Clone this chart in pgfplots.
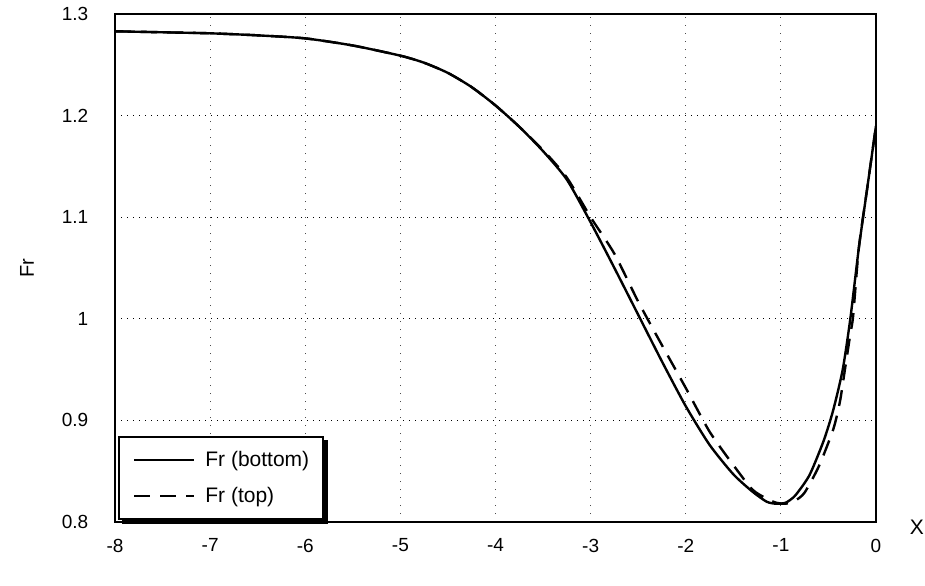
\documentclass[border=0pt]{standalone}
\usepackage{fontspec}
\setmainfont{Liberation Sans}
\usepackage{pgfplots}
\pgfplotsset{compat=1.18}
\usetikzlibrary{calc}

\pgfplotstableread{
x     y
-8.00 1.283
-7.50 1.282
-7.00 1.281
-6.50 1.279
-6.00 1.276
-5.50 1.269
-5.00 1.259
-4.75 1.252
-4.50 1.242
-4.25 1.228
-4.00 1.210
-3.75 1.189
-3.50 1.165
-3.25 1.137
-3.00 1.095
-2.75 1.050
-2.50 1.004
-2.25 0.958
-2.00 0.914
-1.75 0.876
-1.50 0.847
-1.30 0.830
-1.15 0.820
-1.05 0.818
-0.95 0.819
-0.85 0.826
-0.70 0.846
-0.55 0.880
-0.45 0.910
-0.35 0.950
-0.27 1.000
-0.18 1.070
-0.09 1.130
 0.00 1.190
}\frbottom

\pgfplotstableread{
x     y
-8.00 1.283
-7.50 1.282
-7.00 1.281
-6.50 1.279
-6.00 1.276
-5.50 1.269
-5.00 1.259
-4.75 1.252
-4.50 1.242
-4.25 1.228
-4.00 1.210
-3.75 1.189
-3.50 1.166
-3.25 1.139
-3.00 1.100
-2.75 1.064
-2.50 1.017
-2.25 0.974
-2.00 0.932
-1.75 0.889
-1.50 0.856
-1.30 0.832
-1.15 0.823
-1.05 0.819
-0.95 0.818
-0.85 0.821
-0.75 0.829
-0.60 0.855
-0.45 0.891
-0.38 0.918
-0.33 0.948
-0.27 0.985
-0.24 1.003
-0.18 1.070
-0.09 1.130
 0.00 1.190
}\frtop

\begin{document}
\fontsize{9.5}{11}\selectfont
\begin{tikzpicture}
\begin{axis}[
  name=ax,
  scale only axis,
  width=380.5pt, height=254pt,
  xmin=-8, xmax=0, ymin=0.8, ymax=1.3,
  xtick={-8,-7,-6,-5,-4,-3,-2,-1,0},
  ytick={0.8,0.9,1,1.1,1.2,1.3},
  /pgf/number format/assume math mode=true,
  tick label style={font=\fontsize{9.5}{11}\selectfont},
  xticklabel style={yshift=-5pt},
  yticklabel style={xshift=-10pt},
  major tick length=0pt,
  axis line style={line width=1pt},
  xmajorgrids, ymajorgrids,
  y grid style={black, line width=0.6pt, dash pattern=on 0.6pt off 2.4pt},
  x grid style={black!70, line width=0.5pt, dash pattern=on 0.5pt off 3.5pt},
  xlabel={X},
  xlabel style={at={(axis description cs:1,0)}, anchor=center,
    xshift=20.5pt, yshift=-2.5pt, font=\fontsize{10.5}{12}\selectfont},
  ylabel={Fr},
  ylabel style={at={(axis description cs:-0.1156,0.5)}, anchor=center,
    font=\fontsize{10}{12}\selectfont},
  legend cell align=left,
  legend image code/.code={\draw[#1] (0pt,0pt) -- (30pt,0pt);},
  legend style={
    name=lgd,
    at={(rel axis cs:0,0)}, anchor=south west, xshift=1.5pt, yshift=1pt,
    draw=black, line width=1pt, fill=white,
    inner xsep=7pt, inner ysep=7pt, row sep=9pt,
    nodes={inner sep=0pt, font=\fontsize{10.5}{12}\selectfont},
    column sep=5pt,
  },
]
\addplot[black, line width=1.2pt, smooth, tension=0.4] table[x=x, y=y] {\frbottom};
\addlegendentry{Fr (bottom)}
\addplot[black, line width=1.2pt, smooth, tension=0.4, dash pattern=on 8pt off 5pt] table[x=x, y=y] {\frtop};
\addlegendentry{Fr (top)}
\end{axis}
% legend shadow on the right and bottom edges
\fill[black] ($(lgd.south west)+(2pt,-2pt)$) rectangle ($(lgd.south east)+(2pt,0pt)$);
\fill[black] ($(lgd.south east)+(0pt,-2pt)$) rectangle ($(lgd.north east)+(2pt,-2pt)$);
\pgfresetboundingbox
\path ($(ax.south west)+(-57.5pt,-31.5pt)$) rectangle ($(ax.south west)+(405pt,261pt)$);
\end{tikzpicture}
\end{document}
